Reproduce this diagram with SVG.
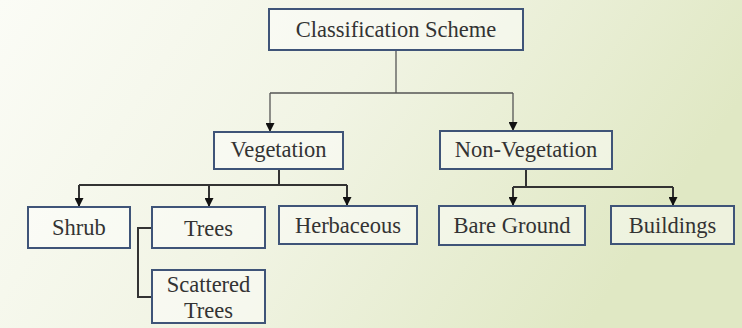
<svg xmlns="http://www.w3.org/2000/svg" width="742" height="328" viewBox="0 0 742 328">
<defs>
<linearGradient id="bg" x1="0" y1="0" x2="1" y2="0.3">
<stop offset="0" stop-color="#fbfcf6"/>
<stop offset="0.5" stop-color="#f1f4e4"/>
<stop offset="1" stop-color="#e0e8c4"/>
</linearGradient>
<marker id="ah" viewBox="0 0 10 10" refX="10" refY="5" markerWidth="9" markerHeight="9" markerUnits="userSpaceOnUse" orient="auto">
<path d="M0,0 L10,5 L0,10 z" fill="#111"/>
</marker>
<style>
.box{fill:#ffffff;fill-opacity:0.45;stroke:#3f5478;stroke-width:2}
.lbl{font-size:22.5px;fill:#333;text-anchor:middle}
.c1{fill:none;stroke:#555;stroke-width:1.3}
.c2{fill:none;stroke:#333;stroke-width:2}
</style>
</defs>
<rect width="742" height="328" fill="url(#bg)"/>
<g id="connectors">
<path class="c1" d="M396,50 V93"/>
<path class="c1" d="M270,93 H513"/>
<path class="c1" d="M270,93 V132" marker-end="url(#ah)"/>
<path class="c1" d="M513,93 V131" marker-end="url(#ah)"/>
<path class="c2" d="M279,169 V185"/>
<path class="c2" d="M79,185 H347"/>
<path class="c2" d="M79,185 V207" marker-end="url(#ah)"/>
<path class="c2" d="M209,185 V207" marker-end="url(#ah)"/>
<path class="c2" d="M347,185 V206" marker-end="url(#ah)"/>
<path class="c2" d="M152,228 H138 V297 H152"/>
<path class="c2" d="M526,169 V187"/>
<path class="c2" d="M513,187 H673"/>
<path class="c2" d="M513,187 V206" marker-end="url(#ah)"/>
<path class="c2" d="M673,187 V206" marker-end="url(#ah)"/>
</g>
<g font-family="Liberation Serif, Times New Roman, DejaVu Serif, serif">
<g id="root"><rect class="box" x="269" y="9" width="254" height="41"/><text class="lbl" x="396" y="37">Classification Scheme</text></g>
<g id="vegetation"><rect class="box" x="214" y="132" width="129" height="37"/><text class="lbl" x="278.5" y="157">Vegetation</text></g>
<g id="nonvegetation"><rect class="box" x="440" y="131" width="172" height="38"/><text class="lbl" x="526" y="157">Non-Vegetation</text></g>
<g id="shrub"><rect class="box" x="28" y="207" width="102" height="41"/><text class="lbl" x="79" y="235">Shrub</text></g>
<g id="trees"><rect class="box" x="152" y="207" width="113" height="41"/><text class="lbl" x="208.5" y="236">Trees</text></g>
<g id="herbaceous"><rect class="box" x="279" y="206" width="138" height="38"/><text class="lbl" x="348" y="233">Herbaceous</text></g>
<g id="scattered"><rect class="box" x="152" y="270" width="113" height="53"/><text class="lbl" x="208.5" y="292">Scattered</text><text class="lbl" x="208.5" y="318">Trees</text></g>
<g id="bareground"><rect class="box" x="439" y="206" width="146" height="39"/><text class="lbl" x="512" y="233">Bare Ground</text></g>
<g id="buildings"><rect class="box" x="611" y="206" width="123" height="38"/><text class="lbl" x="672.5" y="233">Buildings</text></g>
</g>
</svg>
